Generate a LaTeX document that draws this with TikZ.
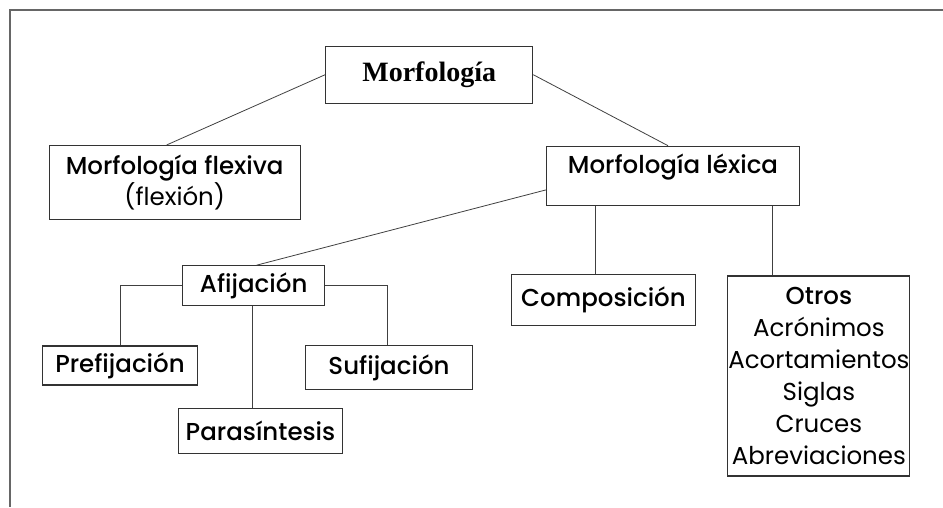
\documentclass[tikz,border=0pt]{standalone}
\usepackage{fontspec}
\setmainfont{Poppins}[BoldFont={Poppins Medium}]
\newfontfamily\rootfont{Liberation Serif}
\begin{document}
\begin{tikzpicture}[x=1pt,y=-1pt]
  \tikzset{
    rootbox/.style={draw=black!80,line width=1.1pt,inner sep=0pt,
      font=\rootfont\bfseries\fontsize{28}{32}\selectfont},
    branch/.style={draw=black!80,line width=1.1pt,inner sep=0pt,align=center,
      font=\bfseries\fontsize{24.5}{28}\selectfont},
    tie/.style={draw=black!75,line width=0.8pt}
  }
  \useasboundingbox (0,0) rectangle (943,507);
  \draw[draw=black!60,line width=1.3pt] (943,10) -- (10,10) -- (10,507);

  \node[rootbox,minimum width=207pt,minimum height=57pt] (root) at (429.2,74.7)
    {Morfología};
  \node[branch,minimum width=251pt,minimum height=74pt] (flex) at (174.7,182.5)
    {Morfología flexiva\\\mdseries(flexión)};
  \node[branch,minimum width=253pt,anchor=north,text height=27.6pt,
    text depth=31.7pt] (lex) at (673,145.7) {Morfología léxica};

  \node[branch,minimum width=142pt,minimum height=40pt] (afij) at (253.7,285.7)
    {Afijación};
  \node[branch,minimum width=155pt,minimum height=39pt] (pref) at (120,365.5)
    {Prefijación};
  \node[branch,minimum width=164pt,minimum height=45pt] (paras) at (260.5,430.8)
    {Parasíntesis};
  \node[branch,minimum width=167pt,minimum height=44pt] (suf) at (389,367.8)
    {Sufijación};
  \node[branch,minimum width=184pt,minimum height=51pt] (comp) at (603.5,299.8)
    {Composición};
  \node[branch,minimum width=182pt,minimum height=200pt,
    font=\fontsize{24.5}{32}\selectfont] (otros) at (818.9,376)
    {\textbf{Otros}\\Acrónimos\\Acortamientos\\Siglas\\Cruces\\Abreviaciones};

  \coordinate (compleg) at ([xshift=-78pt]lex.south);
  \coordinate (otrosleg) at ([xshift=99pt]lex.south);
  \coordinate (parasleg) at ([xshift=-1pt]afij.south);

  \draw[tie] (root.west) -- ([xshift=-8pt]flex.north);
  \draw[tie] (root.east) -- ([xshift=-5pt]lex.north);
  \draw[tie] ([yshift=-14pt]lex.west) -- ([xshift=3pt]afij.north);
  \draw[tie] (compleg) -- (compleg |- comp.north);
  \draw[tie] (otrosleg) -- (otrosleg |- otros.north);
  \draw[tie] (afij.west) -| (pref.north);
  \draw[tie] (afij.east) -| ([xshift=-2pt]suf.north);
  \draw[tie] (parasleg) -- (parasleg |- paras.north);
\end{tikzpicture}
\end{document}
